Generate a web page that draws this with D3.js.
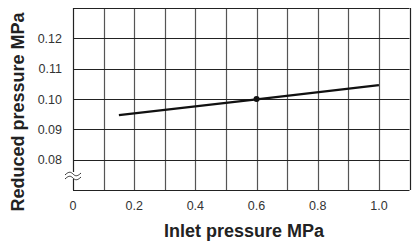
<!DOCTYPE html>
<html>
<head>
<meta charset="utf-8">
<script src="https://cdn.jsdelivr.net/npm/d3@7"></script>
<style>
  body { margin: 0; background: #fff; }
  svg { display: block; font-family: "Liberation Sans", Arial, sans-serif; }
</style>
</head>
<body>
<svg id="chart" width="412" height="242"></svg>
<script>
// Data
const inletPressure = [0.15, 0.6, 1.0];
const reducedPressure = [0.0947, 0.0999, 0.1046];
const setPoint = [0.6, 0.1];
const xTicks = [0, 0.2, 0.4, 0.6, 0.8, 1.0];
const yTicks = [0.08, 0.09, 0.10, 0.11, 0.12];
const xGrid = d3.range(0, 1.11, 0.1);
const yGrid = [0.07, 0.08, 0.09, 0.10, 0.11, 0.12, 0.13];

const svg = d3.select('#chart');

const x = d3.scaleLinear().domain([0, 1.1]).range([73, 409.5]);
const y = d3.scaleLinear().domain([0.07, 0.13]).range([190, 8]);

// Grid
const grid = svg.append('g');
grid.selectAll('line.v')
  .data(xGrid)
  .join('line')
  .attr('class', 'v')
  .attr('x1', (d) => Math.round(x(d)) + 0.5)
  .attr('x2', (d) => Math.round(x(d)) + 0.5)
  .attr('y1', y(0.13))
  .attr('y2', y(0.07))
  .attr('stroke', (d, i) => (i === 0 || i === xGrid.length - 1 ? '#222' : '#555'))
  .attr('stroke-width', 1.2);

grid.selectAll('line.h')
  .data(yGrid)
  .join('line')
  .attr('class', 'h')
  .attr('x1', x(0))
  .attr('x2', x(1.1))
  .attr('y1', (d) => Math.round(y(d)) + 0.5)
  .attr('y2', (d) => Math.round(y(d)) + 0.5)
  .attr('stroke', '#222')
  .attr('stroke-width', 1.2);

// Axis break mark (two wavy strokes across the left border)
svg.append('rect')
  .attr('x', x(0) - 2)
  .attr('y', 172)
  .attr('width', 4)
  .attr('height', 7)
  .attr('fill', '#fff');
const wave = (dy) => {
  const x0 = x(0) - 8, y0 = 174 + dy;
  return `M${x0},${y0 + 1} C${x0 + 4},${y0 - 3} ${x0 + 6},${y0 - 2} ${x0 + 8},${y0}` +
    ` S${x0 + 12},${y0 + 3} ${x0 + 16},${y0 - 1}`;
};
svg.append('g')
  .selectAll('path')
  .data([0, 4])
  .join('path')
  .attr('d', (d) => wave(d))
  .attr('fill', 'none')
  .attr('stroke', '#333')
  .attr('stroke-width', 1);

// Tick labels
svg.append('g')
  .selectAll('text')
  .data(yTicks)
  .join('text')
  .attr('x', 62)
  .attr('y', (d) => y(d) + 4.5)
  .attr('text-anchor', 'end')
  .attr('font-size', 12.5)
  .attr('fill', '#333')
  .text((d) => d.toFixed(2));

svg.append('g')
  .selectAll('text')
  .data(xTicks)
  .join('text')
  .attr('x', (d) => x(d))
  .attr('y', 210)
  .attr('text-anchor', 'middle')
  .attr('font-size', 12.5)
  .attr('fill', '#333')
  .text((d) => (d === 0 ? '0' : d.toFixed(1)));

// Line
const line = d3.line()
  .x((d) => x(d[0]))
  .y((d) => y(d[1]));

svg.append('path')
  .datum(inletPressure.map((v, i) => [v, reducedPressure[i]]))
  .attr('d', line)
  .attr('fill', 'none')
  .attr('stroke', '#111')
  .attr('stroke-width', 2.2);

svg.append('circle')
  .attr('cx', x(setPoint[0]))
  .attr('cy', y(setPoint[1]))
  .attr('r', 3)
  .attr('fill', '#111');

// Titles
svg.append('text')
  .attr('x', 244)
  .attr('y', 237)
  .attr('text-anchor', 'middle')
  .attr('font-size', 18)
  .attr('font-weight', 'bold')
  .attr('fill', '#222')
  .text('Inlet pressure MPa');

svg.append('text')
  .attr('transform', 'translate(24,112) rotate(-90)')
  .attr('text-anchor', 'middle')
  .attr('font-size', 18)
  .attr('font-weight', 'bold')
  .attr('fill', '#222')
  .text('Reduced pressure MPa');
</script>
</body>
</html>
